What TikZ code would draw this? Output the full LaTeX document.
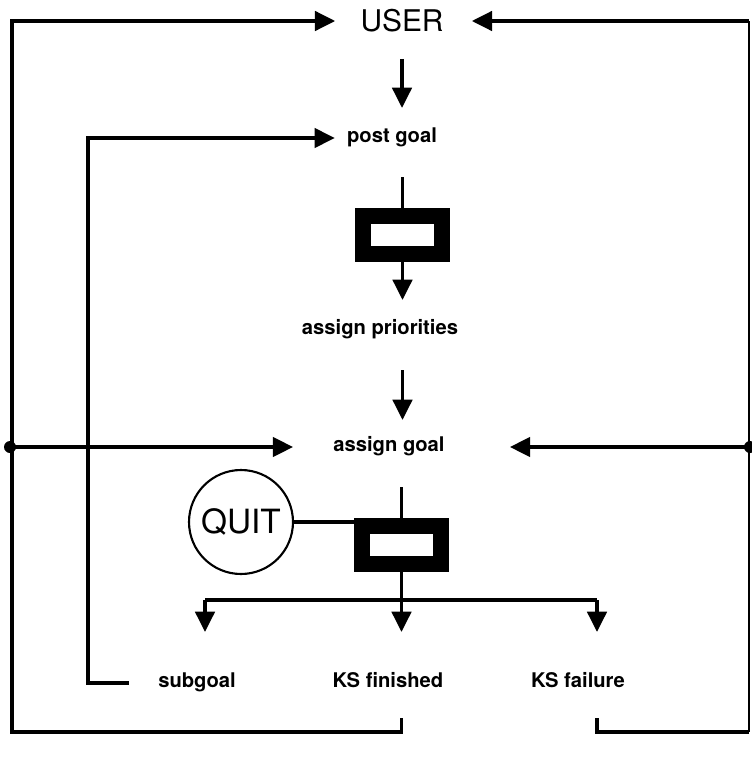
\documentclass[tikz,border=0pt]{standalone}
\usepackage{fontspec}
\setmainfont{TeX Gyre Heros}
\usetikzlibrary{arrows.meta}

\begin{document}
\begin{tikzpicture}[x=0.02cm, y=-0.02cm, >={Triangle[length=11.5pt, width=11pt]},
    line/.style={line width=2pt},
    flow/.style={line, ->},
    lbl/.style={font=\fontsize{11.5}{13}\selectfont\bfseries, inner sep=0pt,
                text height=8pt, text depth=2.5pt},
    title/.style={font=\fontsize{17}{20}\selectfont, inner sep=0pt},
    gate/.style={draw, line width=0.32cm, fill=white, inner sep=0pt,
                 minimum width=1.58cm, minimum height=0.76cm},
    quitbox/.style={draw, circle, line width=1.2pt, minimum size=2.08cm,
                    inner sep=0pt, font=\fontsize{19}{22}\selectfont}]
    % ================= Canvas =================
    \path[use as bounding box] (0,0) rectangle (751,761);

    % ================= Nodes =================
    \node[title] (user) at (402,21) {USER};
    \node[lbl] (post) at (392,138) {post goal};
    \node[gate] (gateA) at (402.5,235) {};
    \node[lbl] (prio) at (380,330) {assign priorities};
    \node[lbl] (assign) at (389,447) {assign goal};
    \node[gate] (gateB) at (401.5,544.5) {};
    \node[quitbox] (quit) at (241,522) {QUIT};
    \node[lbl] (sub) at (197,683) {subgoal};
    \node[lbl] (done) at (388,683) {KS finished};
    \node[lbl] (fail) at (578,683) {KS failure};

    % Corners and junctions
    \coordinate (cornerBL) at (12,732);
    \coordinate (cornerBR) at (749,732);
    \coordinate (innerL) at (88,138);
    \coordinate (dotL) at (10,447);
    \coordinate (dotR) at (750,447);
    \coordinate (tapSub) at (205,600);
    \coordinate (tapFail) at (597,600);

    % ================= Main chain =================
    \draw[flow, shorten <=0.52cm, shorten >=0.41cm] (user.south) -- (user.south |- post.north);
    \draw[line, shorten <=0.59cm] (post.south -| gateA) -- (gateA.north);
    \draw[flow, shorten >=0.41cm] (gateA.south) -- (gateA.south |- prio.north);
    \draw[flow, shorten <=0.61cm, shorten >=0.35cm] (prio.south -| gateA) -- (gateA |- assign.north);
    \draw[line, shorten <=0.61cm] (assign.south -| gateB) -- (gateB.north);

    % QUIT hooked to the second gate
    \draw[line] (quit.east) -- (quit.east -| gateB.west);

    % ================= Outcomes =================
    \draw[flow, shorten >=0.83cm] (gateB.south) -- (gateB.south |- done.north);
    \draw[line] (tapSub) -- (tapFail);
    \draw[flow, shorten >=0.83cm] (tapSub) -- (tapSub |- sub.north);
    \draw[flow, shorten >=0.83cm] (tapFail) -- (tapFail |- fail.north);

    % ================= Feedback loops =================
    % KS finished back to USER
    \draw[flow, shorten <=0.51cm, shorten >=0.5cm] (done.south -| gateB) |- (cornerBL) |- (user.west);
    % KS failure back to USER (edge line is faint)
    \draw[line, shorten <=0.51cm] (tapFail |- fail.south) -- (tapFail |- cornerBR) -- (cornerBR);
    \draw[line width=0.8pt] (cornerBR) -- (cornerBR |- user.east);
    \draw[flow, shorten >=0.56cm] (cornerBR |- user.east) -- (user.east);
    % subgoal back to post goal
    \draw[flow, shorten <=0.58cm, shorten >=0.24cm] (sub.west) -| (innerL) -- (post.west);

    % Both sides into assign goal
    \fill (dotL) circle (6);
    \fill (dotR) circle (6);
    \draw[flow, shorten >=0.8cm] (dotL) -- (assign.west);
    \draw[flow, shorten >=1.3cm] (dotR) -- (assign.east);

\end{tikzpicture}
\end{document}
